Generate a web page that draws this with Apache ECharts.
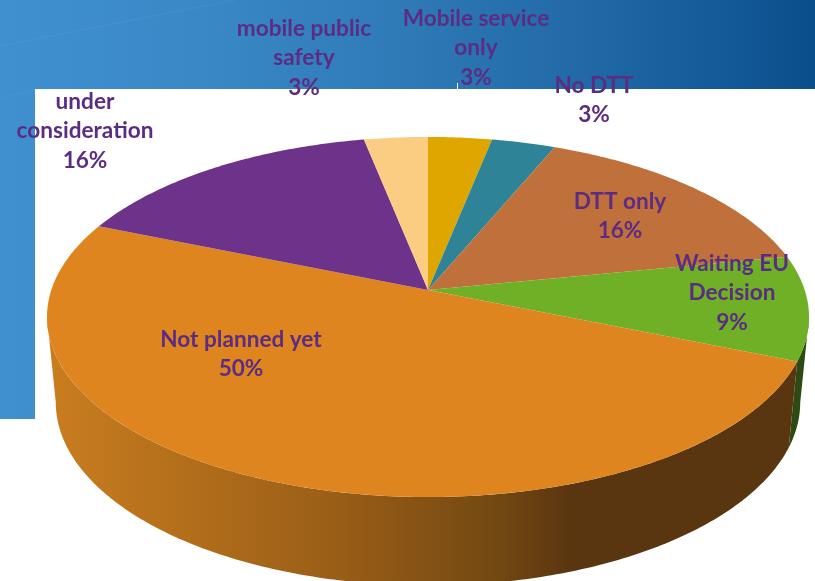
<!DOCTYPE html>
<html>
<head>
<meta charset="utf-8">
<title>3D pie</title>
<script src="https://cdn.jsdelivr.net/npm/echarts@6/dist/echarts.min.js"></script>
<style>
  html, body { margin: 0; padding: 0; background: #fff; }
  #chart { width: 815px; height: 581px; }
</style>
</head>
<body>
<div id="chart"></div>
<script>
// slices run clockwise from 12 o'clock, values are counts out of 32
const categories = [
  'Mobile service\nonly',
  'No DTT',
  'DTT only',
  'Waiting EU\nDecision',
  'Not planned yet',
  'under\nconsideration',
  'mobile public\nsafety',
];
const values = [1, 1, 5, 3, 16, 5, 1];
const colors = ['#dfa600', '#2e8396', '#c0703a', '#6fb026', '#df8520', '#6d3289', '#fbcd82'];
const wallColors = ['#8a6700', '#1c5160', '#774524', '#2c4a12', '#5a3610', '#43205a', '#9b7f50'];

// label centres, picked by hand like data label drags in the original
const labelCentres = [[476, 48], [594, 100], [620, 216], [732, 293], [241, 354], [85, 131], [304, 58]];

// tilted disc: perspective projection of a circle
const TILT = 0.15;
const topFace = { x: 428, y: 290, a: 376.7, b: 176 };
const bottomFace = { x: 428, y: 375, a: 368, b: 179 };
// where the side wall turns away from the viewer
const wallStart = Math.acos(-TILT);
const wallEnd = Math.PI * 2 - wallStart;

const total = values.reduce((a, b) => a + b, 0);

function project(face, angle) {
  const u = Math.sin(angle);
  const v = -Math.cos(angle);
  const w = 1 - TILT * v;
  return [face.x + (face.a * u) / w, face.y + (face.b * v) / w];
}

function arc(face, from, to) {
  const steps = Math.max(4, Math.ceil((to - from) * 80));
  const pts = [];
  for (let i = 0; i <= steps; i++) pts.push(project(face, from + ((to - from) * i) / steps));
  return pts;
}

function renderSlice(params, api) {
  const i = params.dataIndex;
  const before = values.slice(0, i).reduce((a, b) => a + b, 0);
  const from = (before / total) * Math.PI * 2;
  const to = ((before + api.value(0)) / total) * Math.PI * 2;
  const wallFill = categories[i] === 'Not planned yet' ? {
    type: 'linear',
    global: true,
    x: 50,
    y: 0,
    x2: 570,
    y2: 0,
    colorStops: [
      { offset: 0, color: '#c97d1f' },
      { offset: 0.55, color: '#9a5e17' },
      { offset: 0.85, color: '#744912' },
      { offset: 1, color: '#5a3610' },
    ],
  } : wallColors[i];
  const [lx, ly] = labelCentres[i];
  const children = [
    {
      type: 'polygon',
      z2: 2,
      shape: { points: [[topFace.x, topFace.y]].concat(arc(topFace, from, to)) },
      style: { fill: colors[i] },
    },
    {
      type: 'text',
      z2: 3,
      x: lx,
      y: ly,
      style: {
        text: categories[i] + '\n' + Math.round((api.value(0) / total) * 100) + '%',
        fill: '#5b2d82',
        font: 'bold 22.6px Lato',
        lineHeight: 29.5,
        align: 'center',
        verticalAlign: 'middle',
      },
    },
  ];
  const wallFrom = Math.max(from, wallStart);
  const wallTo = Math.min(to, wallEnd);
  if (wallTo > wallFrom) {
    children.push({
      type: 'polygon',
      z2: 1,
      shape: { points: arc(topFace, wallFrom, wallTo).concat(arc(bottomFace, wallFrom, wallTo).reverse()) },
      style: { fill: wallFill },
    });
  }
  return { type: 'group', children };
}

const backdrop = {
  type: 'linear',
  global: true,
  x: 0,
  y: 0,
  x2: 815,
  y2: 0,
  colorStops: [
    { offset: 0, color: '#408fcf' },
    { offset: 0.25, color: '#3a88c6' },
    { offset: 0.5, color: '#2f79b7' },
    { offset: 0.75, color: '#1f66a4' },
    { offset: 0.9, color: '#135897' },
    { offset: 1, color: '#0a4f8a' },
  ],
};

const chart = echarts.init(document.getElementById('chart'));
chart.setOption({
  animation: false,
  backgroundColor: '#fff',
  graphic: [
    { type: 'rect', shape: { x: 0, y: 0, width: 815, height: 89 }, style: { fill: backdrop } },
    { type: 'rect', shape: { x: 0, y: 89, width: 35, height: 330 }, style: { fill: backdrop } },
    { type: 'line', shape: { x1: 0, y1: 46, x2: 235, y2: 0 }, style: { stroke: 'rgba(255,255,255,0.04)', lineWidth: 2 } },
    { type: 'line', shape: { x1: 0, y1: 98, x2: 35, y2: 90 }, style: { stroke: 'rgba(255,255,255,0.03)', lineWidth: 2 } },
    { type: 'line', shape: { x1: 457.5, y1: 83, x2: 457.5, y2: 89 }, style: { stroke: '#fff', lineWidth: 1 } },
  ],
  series: [{
    type: 'custom',
    coordinateSystem: 'none',
    renderItem: renderSlice,
    data: values,
    silent: true,
  }],
});
</script>
</body>
</html>
